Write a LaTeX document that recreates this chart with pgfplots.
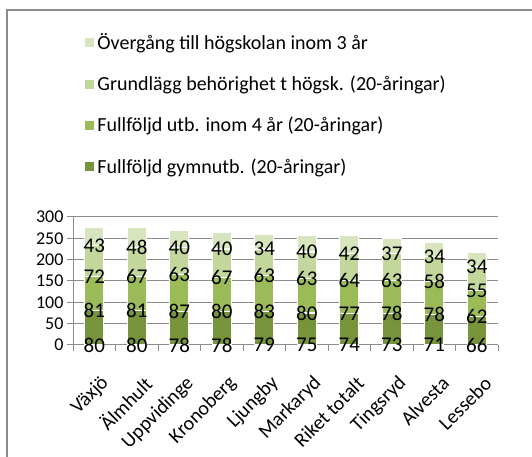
\documentclass[border=0pt]{standalone}
\usepackage{pgfplots}
\usepackage{pgfplotstable}
\pgfplotsset{compat=1.18}
\usepackage{fontspec}
\setmainfont{Carlito}
\definecolor{gA}{HTML}{77933C}
\definecolor{gB}{HTML}{9BBB59}
\definecolor{gC}{HTML}{C3D69B}
\definecolor{gD}{HTML}{D7E4BD}
\definecolor{frame}{HTML}{8C8C8C}
\pgfplotstableread{
x a b c d
0 80 81 72 43
1 80 81 67 48
2 78 87 63 40
3 78 80 67 40
4 79 83 63 34
5 75 80 63 40
6 74 77 64 42
7 73 78 63 37
8 71 78 58 34
9 66 62 55 34
}\data
\begin{document}
\begin{tikzpicture}
\useasboundingbox (0,0) rectangle (532pt,457pt);
\draw[frame, line width=1.3pt] (7pt,-2pt) -- (7pt,447pt) -- (540pt,447pt);
\begin{axis}[
  at={(73pt,112pt)}, anchor=south west,
  scale only axis, width=425pt, height=128pt,
  ybar stacked, bar width=19pt,
  xmin=-0.5, xmax=9.5, ymin=0, ymax=300,
  ytick={0,50,...,300},
  xtick={-0.5,0.5,...,9.5}, xticklabels={},
  extra x ticks={0,1,...,9},
  extra x tick labels={Växjö,Älmhult,Uppvidinge,Kronoberg,Ljungby,Markaryd,Riket totalt,Tingsryd,Alvesta,Lessebo},
  extra x tick style={major tick length=0pt, grid=none,
    xticklabel style={rotate=45, anchor=east, font=\fontsize{20}{22}\selectfont, xshift=-13.5pt, yshift=-33pt}},
  yticklabel style={font=\fontsize{18}{20}\selectfont},
  /pgf/number format/assume math mode=true,
  axis x line*=bottom, axis y line*=left,
  axis line style={frame, line width=1pt},
  tick style={frame, line width=1pt},
  tick align=outside, major tick length=6pt,
  ymajorgrids, grid style={frame, line width=1pt},
  point meta=explicit symbolic,
  nodes near coords,
  every node near coord/.append style={anchor=center, font=\fontsize{21}{22}\selectfont, text=black, yshift={-0.213333*\pgfplotspointmeta}},
  legend style={draw=none, fill=none, at={(0.026,2.45)}, anchor=north west, font=\fontsize{20}{22}\selectfont, row sep=21pt, inner sep=0pt, legend cell align=left},
  legend image code/.code={\fill[#1] (2pt,-5pt) rectangle (12pt,5pt);},
  reverse legend,
]
\addplot[fill=gA, draw=white, line width=1.2pt] table[x=x, y=a, meta=a] {\data};
\addplot[fill=gB, draw=white, line width=1.2pt] table[x=x, y=b, meta=b] {\data};
\addplot[fill=gC, draw=white, line width=1.2pt] table[x=x, y=c, meta=c] {\data};
\addplot[fill=gD, draw=white, line width=1.2pt] table[x=x, y=d, meta=d] {\data};
\legend{Fullföljd gymnutb. (20-åringar), Fullföljd utb. inom 4 år (20-åringar), Grundlägg behörighet t högsk. (20-åringar), Övergång till högskolan inom 3 år}
\end{axis}
\end{tikzpicture}
\end{document}
